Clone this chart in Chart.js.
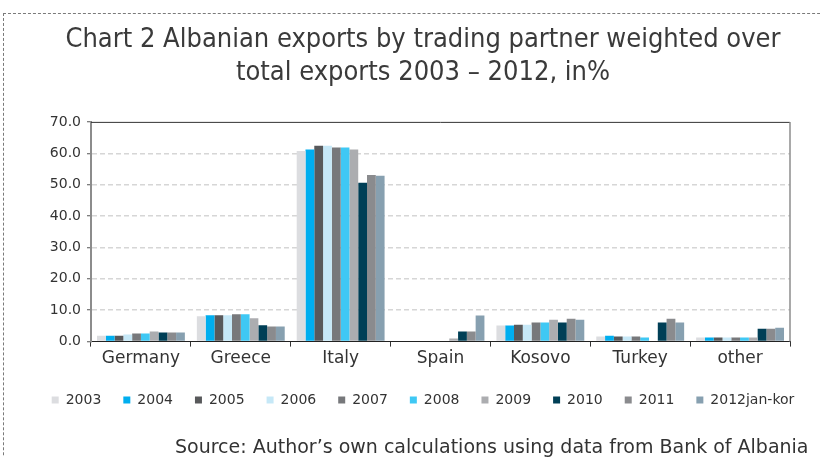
<!DOCTYPE html>
<html>
<head>
<meta charset="utf-8">
<script src="https://cdn.jsdelivr.net/npm/chart.js@4.4.1/dist/chart.umd.min.js"></script>
<style>
    html, body { margin: 0; padding: 0; background: #fff; overflow: hidden; }
    #wrap { position: relative; width: 820px; height: 457px; }
    #frame { position: absolute; left: 3px; top: 13px; width: 900px; height: 600px; border: 1px dashed #7a7a7a; }
    #source { position: absolute; left: 175px; top: 435px; font: 19px "DejaVu Sans", sans-serif; color: #333; white-space: nowrap; }
</style>
</head>
<body>
<div id="wrap">
    <div id="frame"></div>
    <canvas id="barChart" width="820" height="457"></canvas>
    <div id="source">Source: Author’s own calculations using data from Bank of Albania</div>
</div>
<script>
const categories = ['Germany', 'Greece', 'Italy', 'Spain', 'Kosovo', 'Turkey', 'other'];
const years = ['2003', '2004', '2005', '2006', '2007', '2008', '2009', '2010', '2011', '2012jan-kor'];
const colors = ['#dcdde0', '#00aeef', '#58595b', '#c6e8f7', '#77787b', '#3fc8f4', '#acadb0', '#003f56', '#8a8b8e', '#87a0b0'];

const v2003 = [1.9, 8.1, 60.7, 0.0, 5.1, 1.6, 1.3];
const v2004 = [1.9, 8.4, 61.2, 0.0, 5.1, 1.9, 1.3];
const v2005 = [1.9, 8.4, 62.4, 0.0, 5.4, 1.6, 1.3];
const v2006 = [2.3, 8.4, 62.4, 0.0, 5.4, 1.6, 1.3];
const v2007 = [2.6, 8.7, 61.8, 0.0, 6.1, 1.6, 1.3];
const v2008 = [2.6, 8.7, 61.8, 0.0, 6.1, 1.3, 1.3];
const v2009 = [3.2, 7.4, 61.2, 1.0, 7.0, 0.3, 1.3];
const v2010 = [2.9, 5.2, 50.6, 3.2, 6.1, 6.1, 4.1];
const v2011 = [2.9, 4.8, 53.1, 3.2, 7.3, 7.3, 4.1];
const v2012 = [2.9, 4.8, 52.8, 8.3, 7.0, 6.1, 4.4];
const series = [v2003, v2004, v2005, v2006, v2007, v2008, v2009, v2010, v2011, v2012];

const yTicks = [0, 10, 20, 30, 40, 50, 60, 70];

// top and right frame of the plot area
const plotFrame = {
    id: 'plotFrame',
    afterDraw(chart) {
        const { ctx, chartArea: a } = chart;
        ctx.save();
        ctx.strokeStyle = '#333';
        ctx.lineWidth = 1;
        ctx.beginPath();
        ctx.moveTo(a.left, a.top + 0.5);
        ctx.lineTo(a.right, a.top + 0.5);
        ctx.stroke();
        ctx.strokeStyle = '#8c8c8c';
        ctx.lineWidth = 1.5;
        ctx.beginPath();
        ctx.moveTo(a.right, a.top);
        ctx.lineTo(a.right, a.bottom);
        ctx.stroke();
        ctx.restore();
    }
};

const data = {
    labels: categories,
    datasets: years.map((y, i) => ({
        label: y,
        data: series[i],
        backgroundColor: colors[i],
        borderWidth: 0,
        categoryPercentage: 0.88,
        barPercentage: 1.0
    }))
};

const config = {
    type: 'bar',
    data: data,
    options: {
        responsive: false,
        animation: false,
        layout: {
            padding: { top: 16, left: 26, right: 0, bottom: 40 }
        },
        plugins: {
            title: {
                display: true,
                text: ['Chart 2 Albanian exports by trading partner weighted over', 'total exports 2003 \u2013 2012, in%'],
                color: '#3a3a3a',
                font: { family: '"Liberation Sans Narrow", "DejaVu Sans Condensed", sans-serif', size: 27, weight: 'normal', lineHeight: 1.22 },
                padding: { top: 8, bottom: 32 }
            },
            legend: {
                position: 'bottom',
                labels: {
                    boxWidth: 7,
                    boxHeight: 7,
                    padding: 22,
                    color: '#333',
                    font: { family: '"DejaVu Sans", sans-serif', size: 14 }
                }
            },
            tooltip: { enabled: false }
        },
        scales: {
            x: {
                offset: true,
                grid: {
                    display: true,
                    drawOnChartArea: false,
                    offset: true,
                    tickLength: 5,
                    tickColor: '#333'
                },
                border: { color: '#222', width: 1 },
                ticks: {
                    color: '#333',
                    padding: 2,
                    font: { family: '"DejaVu Sans", sans-serif', size: 17 }
                }
            },
            y: {
                min: 0,
                max: 70,
                afterBuildTicks: (axis) => { axis.ticks = yTicks.map(v => ({ value: v })); },
                afterFit: (axis) => { axis.width = 65; },
                grid: {
                    color: (c) => (c.tick.value === 0 || c.tick.value === 70) ? 'rgba(0,0,0,0)' : '#d6d6d6',
                    lineWidth: 1.5,
                    tickColor: '#555',
                    tickBorderDash: [],
                    tickLength: 4,
                    tickWidth: 1
                },
                border: { color: '#8c8c8c', width: 2, dash: [5, 3] },
                ticks: {
                    color: '#333',
                    padding: 6,
                    font: { family: '"DejaVu Sans", sans-serif', size: 14 },
                    callback: (v) => Number(v).toFixed(1)
                }
            },
            // empty right axis, only keeps space on the right side
            yRight: {
                position: 'right',
                display: true,
                min: 0,
                max: 70,
                afterFit: (axis) => { axis.width = 30; },
                grid: { display: false },
                border: { display: false },
                ticks: { display: false }
            }
        }
    },
    plugins: [plotFrame]
};

window.onload = function () {
    const ctx = document.getElementById('barChart').getContext('2d');
    new Chart(ctx, config);
};
</script>
</body>
</html>
